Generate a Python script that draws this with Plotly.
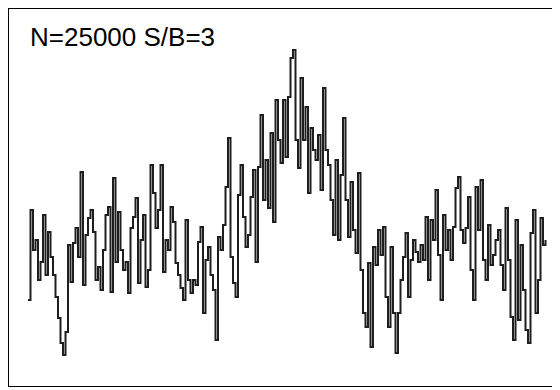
import plotly.graph_objects as go

# Bin index and counts (arbitrary count units)
counts = [
    100, 190, 150, 160, 120, 138, 185, 125, 168, 143,
    125, 103, 82, 57, 45, 68, 155, 118, 157, 172,
    143, 228, 115, 165, 182, 190, 168, 120, 133, 110,
    150, 185, 193, 108, 222, 138, 188, 150, 130, 138,
    107, 172, 183, 202, 117, 160, 185, 113, 130, 235,
    207, 172, 190, 235, 128, 160, 150, 193, 178, 137,
    125, 112, 100, 180, 120, 107, 120, 115, 158, 173,
    87, 140, 153, 125, 110, 60, 163, 150, 175, 213,
    262, 143, 117, 103, 205, 235, 183, 153, 165, 203,
    230, 138, 233, 285, 200, 240, 192, 267, 178, 300,
    260, 237, 300, 243, 303, 342, 350, 260, 232, 322,
    260, 293, 207, 272, 250, 240, 265, 210, 312, 250,
    235, 200, 165, 240, 160, 225, 282, 200, 163, 218,
    170, 147, 227, 130, 87, 73, 137, 53, 153, 135,
    170, 145, 173, 103, 73, 153, 87, 47, 87, 120,
    143, 167, 103, 140, 160, 148, 138, 155, 140, 183,
    120, 180, 160, 210, 145, 100, 185, 150, 170, 140,
    173, 212, 223, 170, 157, 172, 203, 130, 100, 213,
    170, 220, 140, 120, 175, 135, 145, 160, 170, 135,
    110, 192, 140, 83, 60, 180, 80, 155, 110, 70,
    57, 167, 190, 87, 120, 182, 155, 160,
]
bins = list(range(len(counts)))

label = "N=25000 S/B=3"

fig = go.Figure()
fig.add_trace(go.Scatter(
    x=bins, y=counts, mode="lines", line_shape="hv",
    line=dict(color="#1e1e1e", width=2),
    hoverinfo="skip", showlegend=False,
))

fig.add_annotation(
    text=label, xref="paper", yref="paper", x=0.035, y=0.972,
    xanchor="left", yanchor="top", showarrow=False,
    font=dict(family="Liberation Sans, Arial, sans-serif", size=26, color="black"),
)

fig.update_layout(
    width=560, height=390,
    margin=dict(l=1, r=11, t=1, b=12),
    paper_bgcolor="white", plot_bgcolor="white",
    xaxis=dict(range=[-7.6, 211.6], showgrid=False, zeroline=False,
               showticklabels=False, ticks="", showline=True, mirror=True,
               linecolor="black", linewidth=1.2),
    yaxis=dict(range=[14, 391], showgrid=False, zeroline=False,
               showticklabels=False, ticks="", showline=True, mirror=True,
               linecolor="black", linewidth=1.2),
)

fig.write_html("out.html")
